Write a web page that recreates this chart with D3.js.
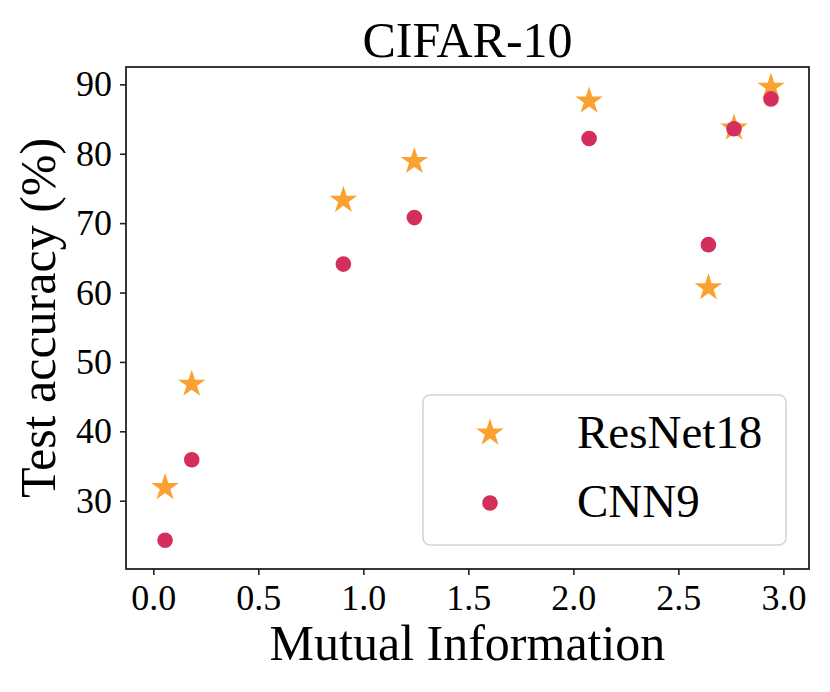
<!DOCTYPE html>
<html>
<head>
<meta charset="utf-8">
<script src="https://cdn.jsdelivr.net/npm/d3@7"></script>
<style>
  body { margin: 0; background: #fff; }
  text { font-family: "Liberation Serif", "Times New Roman", serif; fill: #000; }
</style>
</head>
<body>
<div id="chart"></div>
<script>
// data
var seriesNames = ["ResNet18", "CNN9"];
var resnetMI  = [0.056, 0.183, 0.905, 1.243, 2.075, 2.643, 2.765, 2.941];
var resnetAcc = [31.9, 46.8, 73.3, 78.9, 87.6, 60.7, 83.7, 89.6];
var cnnMI     = [0.056, 0.183, 0.905, 1.243, 2.075, 2.643, 2.765, 2.941];
var cnnAcc    = [24.3, 35.9, 64.1, 70.8, 82.2, 66.9, 83.6, 87.9];
var xTicks = [0.0, 0.5, 1.0, 1.5, 2.0, 2.5, 3.0];
var yTicks = [30, 40, 50, 60, 70, 80, 90];

var W = 830, H = 692;
var margin = {top: 67, right: 21, bottom: 123, left: 126},
    width = W - margin.left - margin.right,
    height = H - margin.top - margin.bottom;

var orange = "#f9a231", crimson = "#d42e5d";

var svg = d3.select("#chart").append("svg")
  .attr("width", W).attr("height", H);
var g = svg.append("g")
  .attr("transform", "translate(" + margin.left + "," + margin.top + ")");

var x = d3.scaleLinear().domain([-0.13, 3.122]).range([0, width]);
var y = d3.scaleLinear().domain([20.16, 92.5]).range([height, 0]);

// star path, outer radius r (same shape as matplotlib '*')
function starPath(r) {
  var ri = r * 0.381966, pts = [];
  for (var i = 0; i < 10; i++) {
    var rr = i % 2 ? ri : r, a = i * Math.PI / 5;
    pts.push([rr * Math.sin(a), -rr * Math.cos(a)]);
  }
  return "M" + pts.map(function(p) { return p[0].toFixed(2) + "," + p[1].toFixed(2); }).join("L") + "Z";
}

// axes
var xAxis = g.append("g")
  .attr("transform", "translate(0," + height + ")")
  .call(d3.axisBottom(x).tickValues(xTicks).tickFormat(d3.format(".1f")).tickSize(6).tickPadding(9).tickSizeOuter(0));
var yAxis = g.append("g")
  .call(d3.axisLeft(y).tickValues(yTicks).tickSize(6).tickPadding(8).tickSizeOuter(0));
[xAxis, yAxis].forEach(function(a) {
  a.select(".domain").remove();
  a.selectAll("line").attr("stroke", "#222").attr("stroke-width", 1.6);
  a.selectAll("text").style("font-size", "36px").style("font-family", "Liberation Serif, serif").attr("fill", "#000");
});

// frame
g.append("rect")
  .attr("width", width).attr("height", height)
  .attr("fill", "none").attr("stroke", "#222").attr("stroke-width", 1.8);

// points
var resnet = resnetMI.map(function(d, i) { return {mi: d, acc: resnetAcc[i]}; });
var cnn = cnnMI.map(function(d, i) { return {mi: d, acc: cnnAcc[i]}; });

g.selectAll(".star").data(resnet).enter().append("path")
  .attr("class", "star")
  .attr("d", starPath(14.5))
  .attr("transform", function(d) { return "translate(" + x(d.mi) + "," + y(d.acc) + ")"; })
  .attr("fill", orange);

g.selectAll(".dot").data(cnn).enter().append("circle")
  .attr("class", "dot")
  .attr("cx", function(d) { return x(d.mi); })
  .attr("cy", function(d) { return y(d.acc); })
  .attr("r", 7.8)
  .attr("fill", crimson);

// legend
var lg = svg.append("g").attr("transform", "translate(423,395)");
lg.append("rect")
  .attr("width", 363).attr("height", 150).attr("rx", 7)
  .attr("fill", "#fff").attr("fill-opacity", 0.8)
  .attr("stroke", "#d4d4d4").attr("stroke-width", 1.6);
lg.append("path").attr("d", starPath(14.5)).attr("transform", "translate(67,38)").attr("fill", orange);
lg.append("circle").attr("cx", 67).attr("cy", 108).attr("r", 7.8).attr("fill", crimson);
lg.selectAll(".ltext").data(seriesNames).enter().append("text")
  .attr("x", 154)
  .attr("y", function(d, i) { return 53 + i * 68.5; })
  .style("font-size", "47px")
  .text(function(d) { return d; });

// title and axis labels
svg.append("text")
  .attr("x", margin.left + width / 2).attr("y", 57)
  .attr("text-anchor", "middle").style("font-size", "50px")
  .text("CIFAR-10");
svg.append("text")
  .attr("x", margin.left + width / 2).attr("y", 660)
  .attr("text-anchor", "middle").style("font-size", "50px")
  .text("Mutual Information");
svg.append("text")
  .attr("transform", "translate(55," + (margin.top + height / 2) + ")rotate(-90)")
  .attr("text-anchor", "middle").style("font-size", "50px")
  .text("Test accuracy (%)");
</script>
</body>
</html>
